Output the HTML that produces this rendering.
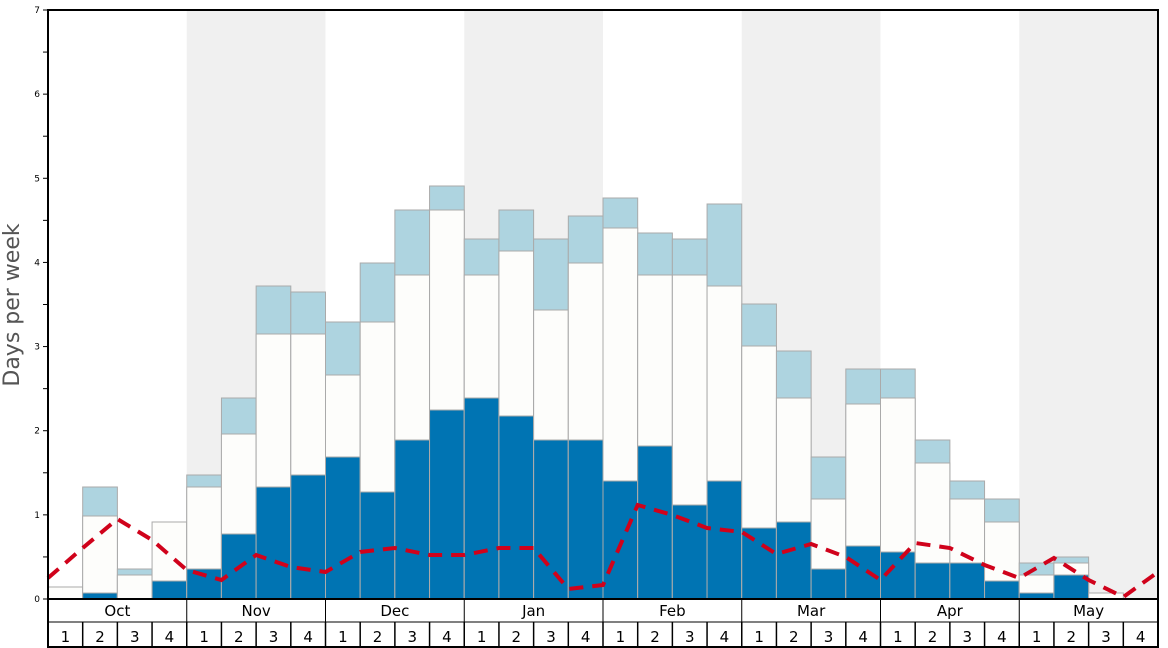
<!DOCTYPE html>
<html><head><meta charset="utf-8"><style>
html,body{margin:0;padding:0;background:#fff;width:1168px;height:648px;overflow:hidden}
svg{display:block;font-family:"DejaVu Sans","Liberation Sans",sans-serif}
</style></head><body>
<svg id="s" width="1168" height="648" viewBox="0 0 1168 648"></svg>
<script>
const L=48,R=1158,T=10,B=599,W=(R-L)/32;
let h='';
[1,3,5,7].forEach(m=>{h+=`<rect x="${L+m*4*W}" y="${T}" width="${4*W}" height="${B-T}" fill="#f0f0f0"/>`;});
const d=[[null,587,null],[593,516,487],[null,575,569],[581,522,null],[569,487,475],[534,434,398],[487,334,286],[475,334,292],
[457,375,322],[492,322,263],[440,275,210],[410,210,186],[398,275,239],[416,251,210],[440,310,239],[440,263,216],
[481,228,198],[446,275,233],[505,275,239],[481,286,204],[528,346,304],[522,398,351],[569,499,457],[546,404,369],
[552,398,369],[563,463,440],[563,499,481],[581,522,499],[593,575,563],[575,563,557],[null,593,null],[null,null,null]];
d.forEach((c,i)=>{const x=L+i*W;
 const [dk,wt,lb]=c;
 if(lb!=null)h+=`<rect x="${x}" y="${lb}" width="${W}" height="${B-lb}" fill="#aed4e0" stroke="#aaa" stroke-width="1"/>`;
 if(wt!=null)h+=`<rect x="${x}" y="${wt}" width="${W}" height="${B-wt}" fill="#fdfdfb" stroke="#aaa" stroke-width="1"/>`;
 if(dk!=null)h+=`<rect x="${x}" y="${dk}" width="${W}" height="${B-dk}" fill="#0074b3" stroke="#aaa" stroke-width="1"/>`;
});
const r=[578,548,519,540,570,580,555,567,572,552,548,555,555,548,548,589,585,505,515,528,532,554,544,557,580,543,548,565,578,558,580,597,572];
h+=`<polyline points="${r.map((y,i)=>(L+i*W)+','+y).join(' ')}" fill="none" stroke="#d0021b" stroke-width="4" stroke-dasharray="14,9"/>`;
h+=`<rect x="${L}" y="${T}" width="${R-L}" height="${B-T}" fill="none" stroke="#000" stroke-width="2"/>`;
for(let k=0;k<=14;k++){const y=B-k*(B-T)/14;h+=`<line x1="${L-5}" x2="${L}" y1="${y}" y2="${y}" stroke="#000"/>`;
 if(k%2==0)h+=`<text x="${L-8}" y="${y+3}" font-size="9" text-anchor="end">${k/2}</text>`;}
h+=`<text transform="translate(19,305) rotate(-90)" font-size="22" fill="#555" text-anchor="middle">Days per week</text>`;
h+=`<line x1="${L}" x2="${R}" y1="622" y2="622" stroke="#000" stroke-width="1"/>`;
h+=`<line x1="${L}" x2="${R}" y1="647" y2="647" stroke="#000" stroke-width="2"/>`;
h+=`<line x1="${L}" x2="${L}" y1="599" y2="648" stroke="#000" stroke-width="2"/>`;
h+=`<line x1="${R}" x2="${R}" y1="599" y2="648" stroke="#000" stroke-width="2"/>`;
const M=['Oct','Nov','Dec','Jan','Feb','Mar','Apr','May'];
M.forEach((m,j)=>{const x=L+j*4*W;
 if(j>0)h+=`<line x1="${x}" x2="${x}" y1="599" y2="622" stroke="#000"/>`;
 h+=`<text x="${x+2*W}" y="616" font-size="15" text-anchor="middle">${m}</text>`;});
for(let i=0;i<32;i++){const x=L+i*W;
 if(i>0)h+=`<line x1="${x}" x2="${x}" y1="622" y2="648" stroke="#000" stroke-width="1.5"/>`;
 h+=`<text x="${x+W/2}" y="642" font-size="15" text-anchor="middle">${i%4+1}</text>`;}
document.getElementById('s').innerHTML=h;
</script>
</body></html>
